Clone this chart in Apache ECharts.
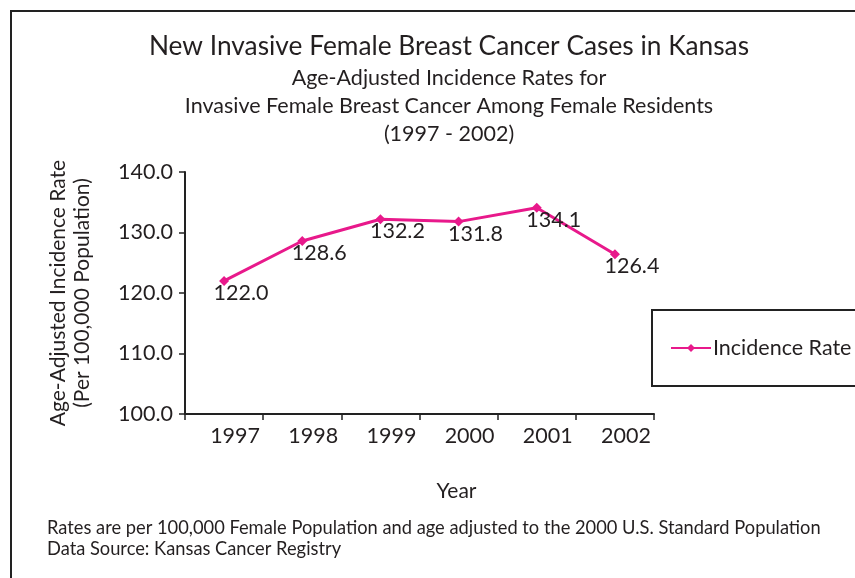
<!DOCTYPE html>
<html>
<head>
<meta charset="utf-8">
<script src="https://cdn.jsdelivr.net/npm/echarts@6/dist/echarts.min.js"></script>
<style>
  html, body { margin: 0; padding: 0; background: #fff; }
  #chart { width: 855px; height: 578px; }
</style>
</head>
<body>
<div id="chart"></div>
<script>
const years = ['1997', '1998', '1999', '2000', '2001', '2002'];
const incidenceRate = [122.0, 128.6, 132.2, 131.8, 134.1, 126.4];
const yTicks = { min: 100, max: 140, interval: 10 };

const textColor = '#231f20';
const lineColor = '#e8198b';
const fontFamily = 'Lato, "Open Sans", sans-serif';

const chart = echarts.init(document.getElementById('chart'));

const option = {
    backgroundColor: '#fff',
    textStyle: { fontFamily: fontFamily, color: textColor },
    title: {
        left: 444,
        top: 29,
        textAlign: 'center',
        text: 'New Invasive Female Breast Cancer Cases in Kansas',
        textStyle: { fontSize: 26.3, fontWeight: 'normal', color: textColor, fontFamily: fontFamily },
        subtext: 'Age-Adjusted Incidence Rates for\nInvasive Female Breast Cancer Among Female Residents\n(1997 - 2002)',
        subtextStyle: { fontSize: 21.5, lineHeight: 28, color: textColor, fontFamily: fontFamily, align: 'center' },
        itemGap: 4
    },
    legend: {
        left: 652,
        top: 310,
        orient: 'vertical',
        data: ['Incidence Rate'],
        itemWidth: 40,
        itemHeight: 10,
        itemGap: 0,
        padding: [27, 40, 27, 18],
        borderColor: '#222',
        borderWidth: 2,
        borderRadius: 0,
        textStyle: { fontSize: 21.5, color: textColor, padding: [0, 0, 0, -3] }
    },
    graphic: [
        {
            type: 'rect',
            shape: { x: 11, y: 11, width: 900, height: 620 },
            style: { fill: 'none', stroke: '#222', lineWidth: 2 }
        },
        {
            type: 'text',
            left: 47,
            top: 518,
            style: {
                text: 'Rates are per 100,000 Female Population and age adjusted to the 2000 U.S. Standard Population\nData Source: Kansas Cancer Registry',
                font: '18.3px ' + fontFamily,
                fill: textColor,
                lineHeight: 21
            }
        }
    ],
    grid: {
        left: 185,
        right: 201,
        top: 172,
        bottom: 164
    },
    xAxis: {
        type: 'category',
        data: years,
        boundaryGap: true,
        name: 'Year',
        nameLocation: 'middle',
        nameGap: 67,
        nameTextStyle: { fontSize: 21, color: textColor, padding: [0, 0, 0, 74] },
        axisLine: { lineStyle: { color: '#222', width: 2 } },
        axisTick: { show: true, length: 6, lineStyle: { color: '#222', width: 1.5 } },
        axisLabel: { fontSize: 21.5, color: textColor, margin: 11, padding: [0, 0, 0, 22] }
    },
    yAxis: {
        type: 'value',
        min: yTicks.min,
        max: yTicks.max,
        interval: yTicks.interval,
        name: 'Age-Adjusted Incidence Rate\n(Per 100,000 Population)',
        nameLocation: 'middle',
        nameGap: 91,
        nameTextStyle: { fontSize: 21, color: textColor, lineHeight: 24 },
        axisLine: { show: true, lineStyle: { color: '#222', width: 2 } },
        axisTick: { show: true, length: 6, lineStyle: { color: '#222', width: 1.5 } },
        axisLabel: {
            fontSize: 21.5,
            color: textColor,
            margin: 12,
            formatter: v => v.toFixed(1)
        },
        splitLine: { show: false }
    },
    series: [
        {
            name: 'Incidence Rate',
            type: 'line',
            data: incidenceRate,
            symbol: 'diamond',
            symbolSize: 10,
            lineStyle: { color: lineColor, width: 3 },
            itemStyle: { color: lineColor },
            label: {
                show: true,
                position: 'bottom',
                distance: 2,
                offset: [17, -6],
                fontSize: 21.5,
                color: textColor,
                formatter: p => p.value.toFixed(1)
            }
        }
    ]
};

chart.setOption(option);
</script>
</body>
</html>
